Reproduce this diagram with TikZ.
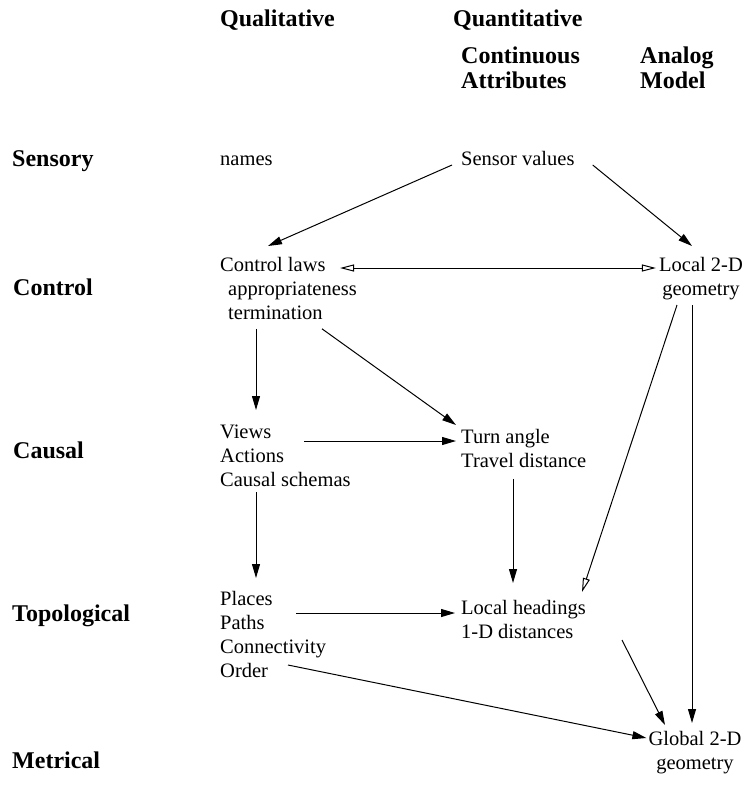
\documentclass[tikz,border=0pt]{standalone}
\usepackage{fontspec}
\setmainfont{Liberation Serif}
\usetikzlibrary{arrows.meta}
\begin{document}
\begin{tikzpicture}[x=1pt,y=-1pt,
  txt/.style={anchor=base west,inner sep=0pt,font=\fontsize{20.5}{24}\selectfont},
  blk/.style={anchor=north west,inner sep=0pt,align=left,font=\fontsize{20.5}{24}\selectfont},
  cblk/.style={anchor=north,inner sep=0pt,align=center,font=\fontsize{20.5}{24}\selectfont},
  hd/.style={anchor=base west,inner sep=0pt,font=\fontsize{24}{25}\selectfont\bfseries},
  hdblk/.style={anchor=north west,inner sep=0pt,align=left,font=\fontsize{24}{25}\selectfont\bfseries},
  arr/.style={line width=1pt,-{Triangle[length=14pt,width=8pt]}},
  oarr/.style={line width=1pt,-{Triangle[open,length=14pt,width=7pt]}},
  darr/.style={line width=1pt,{Triangle[open,length=14pt,width=7pt]}-{Triangle[open,length=14pt,width=7pt]}},
]
\useasboundingbox (0,0) rectangle (746,790);
% column headings
\node[hd] (qual) at (220,26) {Qualitative};
\node[hd] (quant) at (453,26) {Quantitative};
\node[hdblk] (cont) at (461,47) {Continuous\\Attributes};
\node[hdblk] (anal) at (640,47) {Analog\\Model};
% row headings
\node[hd] (rsens) at (12,166) {Sensory};
\node[hd] (rctrl) at (13,295) {Control};
\node[hd] (rcaus) at (13,458) {Causal};
\node[hd] (rtopo) at (12,621) {Topological};
\node[hd] (rmetr) at (12,768) {Metrical};
% content
\node[txt] (nm) at (220,165) {names};
\node[txt] (sv) at (461,165) {Sensor values};
\node[blk] (cl) at (220,257) {Control laws\\\hspace*{8pt}appropriateness\\\hspace*{8pt}termination};
\node[cblk] (lg) at (701,257) {Local 2-D\\geometry};
\node[blk] (vw) at (220,425) {Views\\Actions\\Causal schemas};
\node[blk] (ta) at (461,429) {Turn angle\\Travel distance};
\node[blk] (pl) at (220,591) {Places\\Paths\\Connectivity\\Order};
\node[blk] (lh) at (461,600) {Local headings\\1-D distances};
\node[cblk] (gg) at (695,731) {Global 2-D\\geometry};
% connectors
\draw[arr] ([xshift=-9pt]sv.base west) -- ([xshift=48pt,yshift=11pt]cl.north west);
\draw[arr] ([xshift=18pt]sv.base east) -- ([xshift=-9pt,yshift=11pt]lg.north);
\draw[darr] ([xshift=120pt,yshift=-11pt]cl.north west) -- ([xshift=-3pt,yshift=-11pt]lg.north west);
\draw[arr] ([xshift=36pt,yshift=-9pt]cl.south west) -- ([xshift=36pt,yshift=15pt]vw.north west);
\draw[arr] ([xshift=102pt,yshift=-9pt]cl.south west) -- ([xshift=-5pt,yshift=4pt]ta.north west);
\draw[arr] ([xshift=84pt,yshift=-16pt]vw.north west) -- ([xshift=-5pt,yshift=-12pt]ta.north west);
\draw[arr] ([xshift=36pt,yshift=-5pt]vw.south west) -- ([xshift=36pt,yshift=13pt]pl.north west);
\draw[arr] ([xshift=52pt,yshift=-11pt]ta.south west) -- ([xshift=52pt,yshift=17pt]lh.north west);
\draw[oarr] ([xshift=-24pt,yshift=-5pt]lg.south) -- ([xshift=121pt,yshift=8pt]lh.north west);
\draw[arr] ([xshift=-9pt,yshift=-5pt]lg.south) -- ([xshift=-3pt,yshift=8pt]gg.north);
\draw[arr] ([xshift=76pt,yshift=-22pt]pl.north west) -- ([xshift=-6pt,yshift=-13pt]lh.north west);
\draw[arr] ([xshift=68pt,yshift=-74pt]pl.north west) -- ([xshift=-2pt,yshift=-7pt]gg.north west);
\draw[arr] ([xshift=161pt,yshift=-40pt]lh.north west) -- ([xshift=-30pt,yshift=6pt]gg.north);
\end{tikzpicture}
\end{document}
